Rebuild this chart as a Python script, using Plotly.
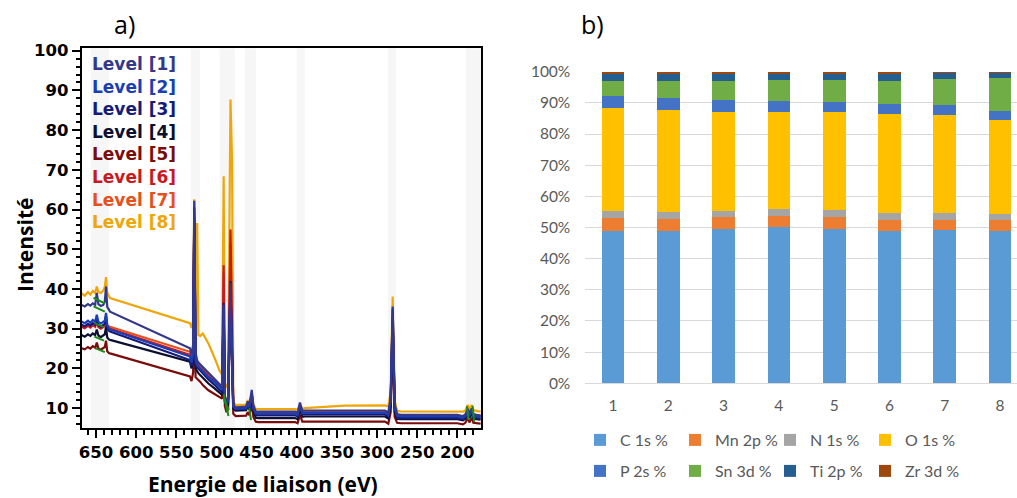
import plotly.graph_objects as go

# ---------------- a) XPS survey spectra ----------------
ENERGY_EV = [668, 664, 660, 657, 654, 651, 649, 647, 644, 641, 639, 637.5, 636, 634, 632.5,
             533, 531, 529, 527.6, 526, 524, 522.5, 520, 517, 510, 502, 496,
             493, 491, 489.5, 487.5, 485.5, 482.5, 480.5, 479, 476,
             470, 463, 461, 459, 456, 454, 451, 448,
             402, 399, 396, 393, 390, 360, 340,
             290, 286, 283, 280.5, 278, 275, 270,
             200, 193, 190, 187, 185, 182, 180, 177, 174, 171]

LEVEL_1 = [36.0, 35.6, 36.2, 35.8, 36.4, 36.0, 39.0, 36.2, 35.7, 36.0, 36.8, 40.6, 35.5, 34.6, 34.3,
           25.1, 23.5, 26.0, 62.2, 24.0, 22.0, 21.5, 21.0, 20.2, 18.8, 17.4, 16.0,
           15.2, 36.0, 13.0, 11.8, 12.5, 41.5, 20.0, 10.8, 10.2,
           10.3, 10.4, 11.7, 10.6, 14.6, 10.5, 9.2, 9.1,
           9.1, 8.8, 11.4, 9.3, 9.4, 9.4, 9.4,
           9.4, 8.9, 12.5, 35.6, 11.0, 8.5, 8.3,
           8.3, 8.0, 8.4, 9.8, 8.6, 9.9, 8.5, 8.3, 8.2, 8.2]
LEVEL_2 = [31.8, 31.4, 32.0, 31.5, 32.2, 31.8, 33.5, 31.7, 31.3, 31.6, 32.0, 34.0, 31.0, 30.0, 29.8,
           23.0, 21.5, 24.0, 58.0, 22.0, 20.8, 20.5, 20.0, 19.3, 17.8, 16.5, 15.2,
           14.6, 35.0, 12.5, 11.2, 12.0, 40.0, 18.5, 10.4, 9.9,
           9.9, 10.0, 11.2, 10.2, 13.5, 10.0, 8.7, 8.6,
           8.6, 8.3, 10.5, 8.8, 8.8, 8.8, 8.8,
           8.8, 8.3, 11.5, 33.0, 10.0, 8.0, 7.9,
           7.9, 7.6, 8.0, 9.3, 8.2, 9.4, 8.0, 7.9, 7.8, 7.8]
LEVEL_3 = [31.0, 30.6, 31.2, 30.8, 31.4, 31.0, 32.6, 30.9, 30.5, 30.8, 31.2, 33.2, 30.2, 29.5, 29.3,
           22.1, 20.6, 23.0, 60.5, 21.2, 20.2, 20.0, 19.5, 18.8, 17.2, 15.8, 14.5,
           14.0, 36.5, 12.0, 10.8, 11.5, 42.0, 19.5, 10.2, 9.7,
           9.7, 9.8, 11.0, 10.0, 13.8, 9.8, 8.3, 8.2,
           8.2, 7.9, 10.6, 8.4, 8.4, 8.4, 8.4,
           8.4, 7.9, 11.8, 35.0, 10.2, 7.6, 7.5,
           7.5, 7.2, 7.7, 9.0, 7.8, 9.1, 7.7, 7.5, 7.4, 7.4]
LEVEL_4 = [28.4, 28.0, 28.6, 28.2, 28.8, 28.4, 29.8, 28.3, 27.9, 28.2, 28.6, 30.5, 27.8, 27.3, 27.2,
           21.7, 20.0, 22.5, 57.0, 20.0, 19.2, 18.8, 18.3, 17.6, 16.2, 14.9, 13.8,
           13.3, 33.0, 11.5, 10.3, 11.0, 38.0, 17.0, 9.9, 9.4,
           9.4, 9.5, 10.6, 9.6, 12.5, 9.4, 7.6, 7.5,
           7.5, 7.2, 9.6, 7.8, 7.9, 7.9, 7.9,
           7.9, 7.4, 10.5, 31.0, 9.0, 7.3, 7.2,
           7.2, 6.9, 7.3, 8.6, 7.5, 8.7, 7.3, 7.2, 7.1, 7.1]
LEVEL_5 = [25.1, 24.8, 25.4, 25.0, 25.6, 25.2, 26.5, 25.0, 24.7, 25.0, 25.4, 27.0, 24.3, 23.9, 23.8,
           18.0, 16.8, 19.0, 54.0, 17.8, 17.3, 17.1, 16.6, 15.8, 14.5, 13.6, 12.9,
           12.4, 34.0, 10.5, 9.0, 9.8, 39.0, 17.5, 8.6, 8.0,
           8.0, 8.1, 9.0, 8.2, 11.0, 7.8, 6.6, 6.5,
           6.5, 6.2, 8.3, 6.6, 6.6, 6.6, 6.6,
           6.6, 6.1, 9.0, 29.0, 7.8, 6.3, 6.2,
           6.2, 5.9, 6.3, 7.5, 6.4, 7.6, 6.3, 6.2, 6.1, 6.1]
LEVEL_6 = [30.5, 30.1, 30.7, 30.3, 30.9, 30.5, 32.0, 30.4, 30.0, 30.3, 30.7, 32.5, 30.2, 30.1, 30.0,
           23.4, 21.8, 24.2, 57.5, 22.0, 21.0, 20.5, 20.0, 19.4, 17.9, 16.6, 15.5,
           15.0, 46.0, 12.8, 11.5, 12.2, 55.0, 22.0, 10.4, 9.9,
           9.9, 10.0, 11.0, 10.1, 12.8, 10.0, 8.5, 8.4,
           8.4, 8.1, 10.2, 8.6, 8.7, 8.7, 8.7,
           8.7, 8.2, 11.0, 32.0, 9.8, 8.1, 8.0,
           8.0, 7.7, 8.1, 9.4, 8.3, 9.5, 8.1, 8.0, 7.9, 7.9]
LEVEL_7 = [30.9, 30.5, 31.1, 30.7, 31.3, 30.9, 32.4, 30.8, 30.4, 30.7, 31.1, 33.0, 30.7, 30.6, 30.5,
           24.2, 22.5, 25.0, 59.0, 22.6, 21.5, 21.0, 20.5, 19.8, 18.3, 17.0, 15.8,
           15.3, 44.0, 13.0, 11.8, 12.5, 51.5, 21.0, 10.6, 10.1,
           10.1, 10.2, 11.3, 10.3, 13.2, 10.2, 8.9, 8.8,
           8.8, 8.5, 10.6, 9.0, 9.0, 9.0, 9.0,
           9.0, 8.5, 11.5, 33.5, 10.2, 8.3, 8.2,
           8.2, 7.9, 8.3, 9.6, 8.5, 9.7, 8.3, 8.2, 8.1, 8.1]
LEVEL_8 = [38.9, 38.3, 39.2, 38.6, 39.5, 39.0, 40.6, 39.2, 39.0, 39.6, 40.5, 43.0, 39.0, 38.0, 37.7,
           31.4, 30.2, 32.0, 62.6, 30.0, 56.6, 28.4, 28.2, 28.8, 26.3, 22.5, 19.4,
           18.5, 68.4, 16.5, 15.5, 16.0, 87.7, 71.8, 11.5, 10.8,
           10.8, 10.9, 12.0, 11.0, 13.0, 11.0, 9.8, 9.75,
           9.75, 9.6, 10.8, 9.8, 10.0, 10.3, 10.65,
           10.7, 10.4, 14.0, 38.1, 12.0, 9.3, 9.15,
           9.15, 9.1, 9.4, 10.8, 9.6, 10.8, 9.5, 9.3, 9.2, 9.2]

LEVEL_NAMES = ["Level [1]", "Level [2]", "Level [3]", "Level [4]",
               "Level [5]", "Level [6]", "Level [7]", "Level [8]"]
LEVELS = [LEVEL_1, LEVEL_2, LEVEL_3, LEVEL_4, LEVEL_5, LEVEL_6, LEVEL_7, LEVEL_8]

# fitted-component segments (green), None separates segments
FIT_EV = [653, 639, None, 653, 639, None, 652, 640, None, 652, 640, None, 651, 639, None,
          491, 486, None, 490, 485, None, 489, 484.5, None, 459, 457, None, 188, 186, None, 181, 179]
FIT_INT = [37.8, 36.4, None, 35.6, 34.3, None, 31.4, 30.4, None, 28.0, 27.0, None, 25.1, 24.1, None,
           13.5, 9.0, None, 12.5, 8.0, None, 11.5, 9.5, None, 10.0, 7.0, None, 10.5, 7.0, None, 10.6, 6.5]

# analysis windows (eV) shaded in the background
WINDOWS_EV = [(656.5, 634), (532, 520.5), (496, 477), (464.5, 450.5), (400, 390), (286.5, 276.5), (189.5, 170.5)]

# ---------------- b) composition ----------------
SAMPLES = [1, 2, 3, 4, 5, 6, 7, 8]
C_1S = [48.9, 48.9, 49.5, 50.1, 49.4, 49.0, 49.3, 48.9]
MN_2P = [4.0, 3.7, 3.8, 3.6, 4.0, 3.4, 3.1, 3.5]
N_1S = [2.4, 2.4, 2.0, 2.2, 2.3, 2.3, 2.3, 1.9]
O_1S = [33.2, 32.7, 31.7, 31.2, 31.4, 31.7, 31.3, 30.1]
P_2S = [3.8, 3.8, 4.0, 3.6, 3.3, 3.3, 3.3, 3.0]
SN_3D = [4.7, 5.5, 6.0, 6.6, 6.9, 7.3, 8.2, 10.7]
TI_2P = [2.5, 2.6, 2.6, 2.3, 2.3, 2.6, 2.3, 1.6]
ZR_3D = [0.5, 0.4, 0.4, 0.4, 0.4, 0.4, 0.2, 0.3]
ELEMENT_NAMES = ["C 1s %", "Mn 2p %", "N 1s %", "O 1s %", "P 2s %", "Sn 3d %", "Ti 2p %", "Zr 3d %"]
ELEMENTS = [C_1S, MN_2P, N_1S, O_1S, P_2S, SN_3D, TI_2P, ZR_3D]
PERCENT_TICKS = [0, 10, 20, 30, 40, 50, 60, 70, 80, 90, 100]

# ---------------- styles ----------------
LEVEL_COLORS = ["#33388a", "#1a3fb5", "#161b7a", "#0d1030", "#7a0c0c", "#c8191e", "#e8501b", "#eea60a"]
ELEMENT_COLORS = ["#5b9bd5", "#ed7d31", "#a5a5a5", "#ffc000", "#4472c4", "#70ad47", "#255e91", "#9e480e"]
W, H = 1017, 498

fig = go.Figure()

for name, ys, color in reversed(list(zip(LEVEL_NAMES, LEVELS, LEVEL_COLORS))):
    fig.add_trace(go.Scatter(x=ENERGY_EV, y=ys, mode="lines", name=name,
                             line=dict(color=color, width=2.2), showlegend=False,
                             xaxis="x", yaxis="y"))
fig.add_trace(go.Scatter(x=FIT_EV, y=FIT_INT, mode="lines", name="fit",
                         line=dict(color="#1a8a1a", width=2), showlegend=False,
                         connectgaps=False, xaxis="x", yaxis="y"))

for i, (name, vals, color) in enumerate(zip(ELEMENT_NAMES, ELEMENTS, ELEMENT_COLORS)):
    fig.add_trace(go.Bar(x=SAMPLES, y=vals, name=name, marker=dict(color=color, line=dict(width=0)),
                         xaxis="x2", yaxis="y2", legend="legend" if i < 4 else "legend2"))

for x0, x1 in WINDOWS_EV:
    fig.add_shape(type="rect", xref="x", yref="y domain", x0=x0, x1=x1, y0=0, y1=1,
                  fillcolor="#f6f6f6", line=dict(width=0), layer="below")

left_font = dict(family="DejaVu Sans", size=16.5, color="black", weight="bold")
b_font = dict(family="Lato", size=15.5, color="#595959")

annotations = []
row_y = [64, 86.6, 109.2, 131.8, 154.4, 177, 199.6, 222.2]
for name, color, py in zip(LEVEL_NAMES, LEVEL_COLORS, row_y):
    annotations.append(dict(text=name, x=90 / W, y=1 - py / H, xref="paper", yref="paper",
                            xanchor="left", yanchor="middle", showarrow=False,
                            font=dict(family="DejaVu Sans", size=17, color=color, weight="bold")))
annotations += [
    dict(text="a)", x=124 / W, y=1 - 24 / H, xref="paper", yref="paper", showarrow=False,
         xanchor="center", yanchor="middle", font=dict(family="Open Sans", size=25, color="black")),
    dict(text="b)", x=592 / W, y=1 - 24 / H, xref="paper", yref="paper", showarrow=False,
         xanchor="center", yanchor="middle", font=dict(family="Open Sans", size=25, color="black")),
    dict(text="Energie de liaison (eV)", x=263 / W, y=1 - 484 / H, xref="paper", yref="paper",
         xanchor="center", yanchor="middle", showarrow=False,
         font=dict(family="Open Sans", size=21, color="black", weight="bold")),
    dict(text="Intensité", x=25 / W, y=1 - 245 / H, xref="paper", yref="paper", textangle=-90,
         xanchor="center", yanchor="middle", showarrow=False,
         font=dict(family="Open Sans", size=21, color="black", weight="bold")),
]

fig.update_layout(
    width=W, height=H, template="none",
    margin=dict(l=0, r=0, t=0, b=0, pad=0),
    paper_bgcolor="white", plot_bgcolor="white",
    barmode="stack", barnorm="percent", bargap=0.59,
    annotations=annotations,
    xaxis=dict(domain=[81.7 / W, 481 / W], range=[667.8, 170.5], anchor="y",
               showgrid=False, zeroline=False, showline=True, linecolor="black", linewidth=2, mirror=True,
               ticks="outside", ticklen=8, tickwidth=2, tickcolor="black",
               tickmode="linear", tick0=0, dtick=50,
               minor=dict(ticks="outside", ticklen=5, tickwidth=1.5, tickcolor="black", dtick=10, showgrid=False),
               tickfont=left_font),
    yaxis=dict(domain=[1 - 428 / H, 1 - 48.3 / H], range=[5.0, 100.6], anchor="x",
               showgrid=False, zeroline=False, showline=True, linecolor="black", linewidth=2, mirror=True,
               ticks="outside", ticklen=8, tickwidth=2, tickcolor="black",
               tickmode="linear", tick0=0, dtick=10,
               minor=dict(ticks="outside", ticklen=4, tickwidth=1.5, tickcolor="black", dtick=2, showgrid=False),
               tickfont=left_font),
    xaxis2=dict(domain=[585.3 / W, 1.0], range=[0.5, 8.306], anchor="y2",
                tickmode="array", tickvals=SAMPLES, ticktext=[str(s) for s in SAMPLES],
                showgrid=False, zeroline=False, showline=True, linecolor="#d9d9d9", linewidth=1,
                ticks="", ticklabelstandoff=8, tickfont=b_font),
    yaxis2=dict(domain=[1 - 383.3 / H, 1 - 71.7 / H], range=[0, 100], anchor="x2",
                tickmode="array", tickvals=PERCENT_TICKS, ticktext=[f"{v}%" for v in PERCENT_TICKS],
                showgrid=True, gridcolor="#d9d9d9", gridwidth=1, showline=False, zeroline=False,
                ticks="", ticklabelstandoff=14, tickfont=b_font),
    legend=dict(orientation="h", x=580 / W, y=1 - 440 / H, xanchor="left", yanchor="middle",
                entrywidth=50, entrywidthmode="pixels", bgcolor="rgba(0,0,0,0)",
                font=dict(family="Lato", size=16, color="#595959"), traceorder="normal"),
    legend2=dict(orientation="h", x=580 / W, y=1 - 471 / H, xanchor="left", yanchor="middle",
                 entrywidth=50, entrywidthmode="pixels", bgcolor="rgba(0,0,0,0)",
                 font=dict(family="Lato", size=16, color="#595959"), traceorder="normal"),
)

fig.write_html("out.html", config={"displayModeBar": False},
               post_script="document.body.style.margin='0px';")
